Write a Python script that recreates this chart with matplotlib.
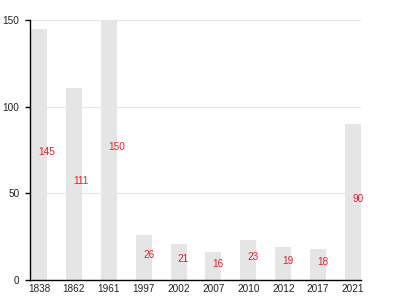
import matplotlib
matplotlib.use("Agg")
import matplotlib.pyplot as plt

categories = ["1838", "1862", "1961", "1997", "2002", "2007", "2010", "2012", "2017", "2021"]
values = [145, 111, 150, 26, 21, 16, 23, 19, 18, 90]
y_ticks = [0, 50, 100, 150]

plt.rcParams['font.family'] = ['Liberation Sans', 'DejaVu Sans']

fig = plt.figure(figsize=(4, 3), dpi=100)
ax = fig.add_axes([0.075, 0.0667, 0.8275, 0.8667])

x = list(range(len(categories)))
width = 0.46
ax.bar(x, values, width=width, color="#e5e5e5", zorder=2)

for xi, v in zip(x, values):
    ax.text(xi - 0.02, v / 2 + 1.5, str(v), color="#e8202a", fontsize=7.2,
            ha="left", va="center", zorder=3)

ax.set_xlim(-0.26, 9.23)
ax.set_ylim(0, 150)
ax.set_yticks(y_ticks)
ax.set_yticklabels([str(t) for t in y_ticks])
ax.set_xticks(x)
ax.set_xticklabels(categories)
ax.tick_params(axis="x", length=0, labelsize=7.2, colors="#222222", pad=3)
ax.tick_params(axis="y", length=3.6, width=1.0, color="black", labelsize=7.2,
               labelcolor="#222222", pad=4)
ax.grid(axis="y", color="#e6e6e6", linewidth=0.8, zorder=0)
for s in ["top", "right"]:
    ax.spines[s].set_visible(False)
for s in ["left", "bottom"]:
    ax.spines[s].set_color("black")
    ax.spines[s].set_linewidth(1.0)

fig.savefig("out.png", dpi=100)
